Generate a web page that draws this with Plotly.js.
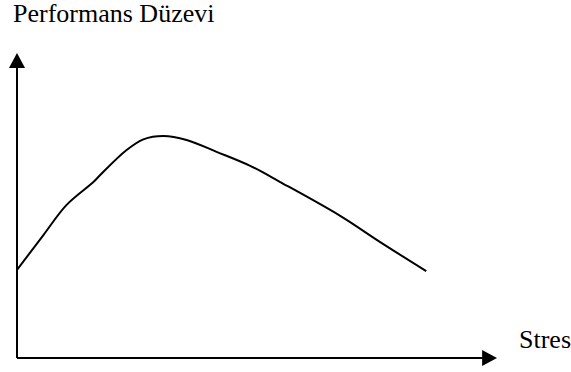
<!DOCTYPE html>
<html>
<head>
<meta charset="utf-8">
<script src="https://cdn.plot.ly/plotly-3.0.1.min.js"></script>
<style>html,body{margin:0;padding:0;background:#fff;}#chart{width:571px;height:372px;}</style>
</head>
<body>
<div id="chart"></div>
<script>
// Stress level (x) vs. performance level (y), arbitrary units
const stress      = [0.00, 0.66, 1.24, 1.91, 2.08, 2.74, 3.16, 3.66, 4.24, 4.99, 5.83, 6.58, 8.08, 9.08, 10.23];
const performance = [2.89, 4.03, 5.02, 5.77, 6.00, 6.82, 7.17, 7.28, 7.15, 6.76, 6.30, 5.77, 4.66, 3.80, 2.85];
const yAxisLabel = "Performans Düzevi";
const xAxisLabel = "Stres";

const font = {family: "Liberation Serif", size: 26, color: "#000"};

const trace = {
  x: stress, y: performance, type: "scatter", mode: "lines",
  line: {color: "#000", width: 2, shape: "spline", smoothing: 1},
  hoverinfo: "skip"
};

const layout = {
  width: 571, height: 372,
  margin: {l: 17, r: 74, t: 53, b: 14, pad: 0},
  paper_bgcolor: "#fff", plot_bgcolor: "#fff",
  showlegend: false,
  font: {family: "Liberation Serif", color: "#000"},
  xaxis: {range: [0, 12], visible: false, fixedrange: true},
  yaxis: {range: [0, 10], visible: false, fixedrange: true},
  shapes: [
    {type: "line", xref: "paper", yref: "paper", x0: 0, y0: 0, x1: 0, y1: 0.955, line: {color: "#000", width: 2}},
    {type: "line", xref: "paper", yref: "paper", x0: 0, y0: 0, x1: 0.97, y1: 0, line: {color: "#000", width: 2}},
    {type: "path", xref: "paper", yref: "paper", path: "M 0 1 L -0.0167 0.951 L 0.0167 0.951 Z", fillcolor: "#000", line: {color: "#000", width: 0}},
    {type: "path", xref: "paper", yref: "paper", path: "M 1 0 L 0.969 0.026 L 0.969 -0.026 Z", fillcolor: "#000", line: {color: "#000", width: 0}}
  ],
  annotations: [
    {text: yAxisLabel, xref: "paper", yref: "paper", x: -0.0105, y: 1.128, xanchor: "left", yanchor: "middle", borderpad: 0, showarrow: false, font: font},
    {text: xAxisLabel, xref: "paper", yref: "paper", x: 1.042, y: 0.062, xanchor: "left", yanchor: "middle", showarrow: false, font: font}
  ]
};

Plotly.newPlot("chart", [trace], layout, {displayModeBar: false, staticPlot: true});
</script>
</body>
</html>
